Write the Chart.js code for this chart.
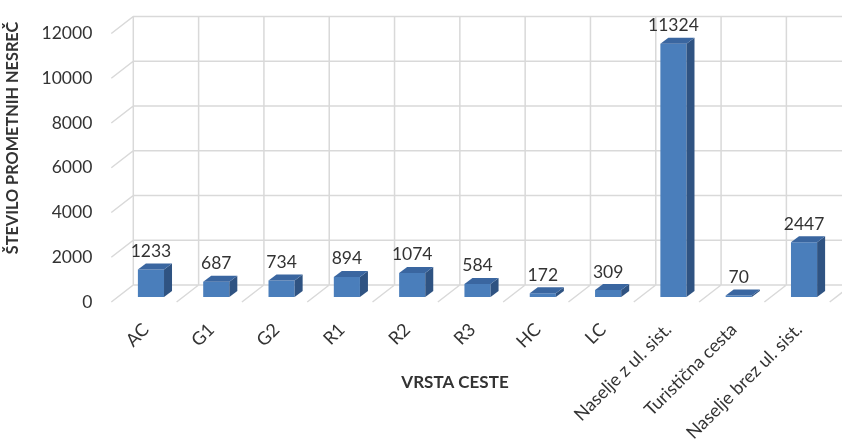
<!DOCTYPE html>
<html>
<head>
<meta charset="utf-8">
<script src="https://cdn.jsdelivr.net/npm/chart.js@4/dist/chart.umd.min.js"></script>
<style>
  body { margin: 0; background: #fff; }
  #wrap { width: 842px; height: 439px; }
</style>
</head>
<body>
<div id="wrap"><canvas id="accidentsChart" width="842" height="439"></canvas></div>
<script>
// Road types and number of traffic accidents
const categories = ['AC', 'G1', 'G2', 'R1', 'R2', 'R3', 'HC', 'LC',
    'Naselje z ul. sist.', 'Turistična cesta', 'Naselje brez ul. sist.'];
const accidents = [1233, 687, 734, 894, 1074, 584, 172, 309, 11324, 70, 2447];
const yTicks = [0, 2000, 4000, 6000, 8000, 10000, 12000];

const FONT = 'Lato, "Open Sans", sans-serif';
const TEXT = '#333333';
const GRID = '#d9d9d9';

// offsets for the fake 3D box: back wall, front edge of floor, bar depth
const wallBack = { dx: 15, dy: -12 };
const floorFront = { dx: -7, dy: 5 };
const barDepth = { dx: 8, dy: -6 };

const wallPlugin = {
    id: 'wall',
    beforeDatasetsDraw(chart) {
        const { ctx, chartArea: a, scales: { x, y } } = chart;
        const band = (a.right - a.left) / categories.length;
        const y0 = y.getPixelForValue(0);
        const yTop = y.getPixelForValue(yTicks[yTicks.length - 1]);
        ctx.save();
        ctx.strokeStyle = GRID;
        ctx.lineWidth = 1.5;
        ctx.beginPath();
        // horizontal gridlines on back wall + side wall diagonals
        yTicks.forEach(v => {
            const py = y.getPixelForValue(v);
            ctx.moveTo(a.left + floorFront.dx, py + floorFront.dy);
            ctx.lineTo(a.left + wallBack.dx, py + wallBack.dy);
            ctx.lineTo(a.right + wallBack.dx, py + wallBack.dy);
        });
        // vertical lines on back wall and floor diagonals
        for (let i = 0; i <= categories.length; i++) {
            const bx = a.left + wallBack.dx + i * band;
            ctx.moveTo(bx, yTop + wallBack.dy);
            ctx.lineTo(bx, y0 + wallBack.dy);
            ctx.lineTo(a.left + floorFront.dx + i * band, y0 + floorFront.dy);
        }
        ctx.stroke();
        ctx.restore();
    },
    afterDatasetsDraw(chart) {
        const { ctx } = chart;
        const meta = chart.getDatasetMeta(0);
        ctx.save();
        meta.data.forEach((bar, i) => {
            const l = bar.x - bar.width / 2;
            const r = bar.x + bar.width / 2;
            const t = bar.y;
            const b = bar.base;
            // side face
            ctx.fillStyle = '#2f5382';
            ctx.beginPath();
            ctx.moveTo(r, t);
            ctx.lineTo(r + barDepth.dx, t + barDepth.dy);
            ctx.lineTo(r + barDepth.dx, b + barDepth.dy);
            ctx.lineTo(r, b);
            ctx.closePath();
            ctx.fill();
            // top face
            ctx.fillStyle = '#3a66a0';
            ctx.beginPath();
            ctx.moveTo(l, t);
            ctx.lineTo(l + barDepth.dx, t + barDepth.dy);
            ctx.lineTo(r + barDepth.dx, t + barDepth.dy);
            ctx.lineTo(r, t);
            ctx.closePath();
            ctx.fill();
            // value label
            ctx.fillStyle = TEXT;
            ctx.font = '17.5px ' + FONT;
            ctx.textAlign = 'center';
            ctx.textBaseline = 'alphabetic';
            ctx.fillText(String(accidents[i]), bar.x, t - 12.5);
        });
        ctx.restore();
    },
    afterDraw(chart) {
        const { ctx } = chart;
        ctx.save();
        ctx.fillStyle = TEXT;
        ctx.font = 'bold 17px ' + FONT;
        ctx.textAlign = 'center';
        ctx.textBaseline = 'middle';
        ctx.fillText('VRSTA CESTE', 455, 383);
        ctx.font = 'bold 16.3px ' + FONT;
        ctx.translate(13, 138);
        ctx.rotate(-Math.PI / 2);
        ctx.fillText('ŠTEVILO PROMETNIH NESREČ', 0, 0);
        ctx.restore();
    }
};

new Chart(document.getElementById('accidentsChart'), {
    type: 'bar',
    data: {
        labels: categories,
        datasets: [{
            label: 'Število prometnih nesreč',
            data: accidents,
            backgroundColor: '#4a7ebb',
            barPercentage: 0.4,
            categoryPercentage: 1.0
        }]
    },
    options: {
        responsive: false,
        animation: false,
        layout: { padding: { top: 27.5, right: 5.3, left: 0, bottom: 0 } },
        plugins: {
            legend: { display: false },
            tooltip: { enabled: false }
        },
        scales: {
            x: {
                grid: { display: false },
                border: { display: false },
                ticks: {
                    color: TEXT,
                    font: { family: FONT, size: 18 },
                    maxRotation: 45,
                    minRotation: 45,
                    padding: 14,
                    labelOffset: -5
                },
                afterFit: s => { s.height = 142; }
            },
            y: {
                min: 0,
                max: 12000,
                grid: { display: false },
                border: { display: false },
                afterBuildTicks: s => { s.ticks = yTicks.map(v => ({ value: v })); },
                ticks: {
                    color: TEXT,
                    font: { family: FONT, size: 17.5 },
                    padding: 18,
                    labelOffset: 5,
                    callback: v => String(v)
                },
                afterFit: s => { s.width = 118.3; }
            }
        }
    },
    plugins: [wallPlugin]
});
</script>
</body>
</html>
